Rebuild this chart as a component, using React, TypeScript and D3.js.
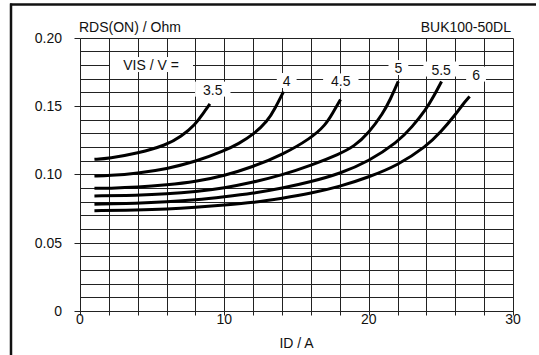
import React from "react";
import * as d3 from "d3";

// ID / A and RDS(ON) / Ohm
const vgsLabels = ["3.5", "4", "4.5", "5", "5.5", "6"];

const id35 = [1, 2, 4, 6, 7, 8, 8.5, 9];
const r35 = [0.111, 0.1117, 0.1154, 0.1215, 0.1275, 0.1365, 0.1442, 0.1515];

const id40 = [1, 2, 4, 6, 8, 10, 11, 12, 13, 13.5, 14.1];
const r40 = [0.0988, 0.099, 0.1008, 0.104, 0.1093, 0.1172, 0.1225, 0.129, 0.139, 0.148, 0.1605];

const id45 = [1, 2, 4, 6, 8, 10, 12, 14, 16, 17, 17.5, 18.05];
const r45 = [0.0898, 0.0898, 0.0905, 0.0922, 0.0946, 0.099, 0.1056, 0.1142, 0.1264, 0.136, 0.1447, 0.1548];

const id50 = [1, 4, 6, 8, 10, 12, 14, 16, 18, 19, 20, 21, 21.5, 22.05];
const r50 = [0.0842, 0.0847, 0.0856, 0.0873, 0.09, 0.0942, 0.0995, 0.1065, 0.115, 0.1205, 0.1302, 0.1447, 0.1548, 0.168];

const id55 = [1, 4, 6, 8, 10, 12, 14, 16, 18, 20, 22, 23, 24, 24.5, 25.05];
const r55 = [0.0781, 0.0788, 0.0798, 0.0812, 0.0835, 0.0861, 0.0898, 0.0946, 0.1005, 0.1095, 0.1235, 0.1345, 0.148, 0.157, 0.168];

const id60 = [1, 4, 6, 8, 10, 12, 14, 16, 18, 20, 22, 24, 25, 26, 26.5, 27];
const r60 = [0.0734, 0.0739, 0.0746, 0.0759, 0.0776, 0.0793, 0.0825, 0.0861, 0.091, 0.098, 0.1065, 0.1205, 0.131, 0.1435, 0.151, 0.157];

// where each VIS label sits (data units)
const labelId = [9.2, 14.32, 18.07, 22.06, 25.02, 27.44];
const labelR = [0.162, 0.1683, 0.168, 0.1778, 0.1767, 0.173];

const xTicks = [0, 10, 20, 30];
const yTicks = [0, 0.05, 0.1, 0.15, 0.2];

const W = 539;
const H = 355;

export default function App() {
  const x = d3.scaleLinear().domain([0, 30]).range([80, 513]);
  const y = d3.scaleLinear().domain([0, 0.2]).range([311, 37.7]);
  // snap thin lines to the pixel grid so they stay crisp
  const sx = (v: number) => Math.round(x(v)) + 0.5;
  const sy = (v: number) => Math.round(y(v)) + 0.5;

  const series = [
    [id35, r35],
    [id40, r40],
    [id45, r45],
    [id50, r50],
    [id55, r55],
    [id60, r60],
  ];

  const line = d3
    .line<[number, number]>()
    .x((d) => x(d[0]))
    .y((d) => y(d[1]))
    .curve(d3.curveBasis);

  const vGrid = d3.range(0, 31, 2);
  const hGrid = d3.range(0, 21).map((i) => i / 100);
  const font = "'Liberation Sans', Arial, Helvetica, sans-serif";
  const gridColor = "#222";

  return (
    <svg
      width={W}
      height={H}
      style={{ position: "absolute", left: 0, top: 0, display: "block", background: "#fff" }}
      fontFamily={font}
      fontSize={14}
    >
      {/* frame */}
      <line x1={10} y1={4.5} x2={536} y2={4.5} stroke="#111" strokeWidth={2.5} />
      <line x1={11} y1={3.5} x2={11} y2={H} stroke="#111" strokeWidth={2.5} />

      {/* grid */}
      {hGrid.map((v) => (
        <line key={"h" + v} x1={sx(0)} x2={sx(30)} y1={sy(v)} y2={sy(v)} stroke={gridColor} strokeWidth={1} />
      ))}
      {vGrid.map((v) => (
        <line key={"v" + v} x1={sx(v)} x2={sx(v)} y1={sy(0.2)} y2={sy(0) + 4} stroke={gridColor} strokeWidth={1} />
      ))}
      {yTicks.map((v) => (
        <line key={"yt" + v} x1={sx(0) - 6} x2={sx(0)} y1={sy(v)} y2={sy(v)} stroke={gridColor} strokeWidth={1} />
      ))}

      {/* tick labels */}
      {yTicks.map((v) => (
        <text key={"yl" + v} x={62} y={y(v)} dy="0.36em" textAnchor="end" fill="#111">
          {v === 0 ? "0" : v.toFixed(2)}
        </text>
      ))}
      {xTicks.map((v) => (
        <text key={"xl" + v} x={x(v)} y={324} textAnchor="middle" fill="#111">
          {v}
        </text>
      ))}
      <text x={(x(0) + x(30)) / 2} y={348} textAnchor="middle" fill="#111">
        ID / A
      </text>
      <text x={79} y={31.5} fill="#111">
        RDS(ON) / Ohm
      </text>
      <text x={511} y={31.5} textAnchor="end" fill="#111">
        BUK100-50DL
      </text>

      {/* VIS legend header */}
      <rect x={110} y={y(0.18) - 8} width={83} height={15} fill="#fff" />
      <text x={151} y={y(0.18)} dy="0.36em" textAnchor="middle" fill="#111">
        VIS / V =
      </text>

      {/* curve labels */}
      {vgsLabels.map((lab, i) => {
        const w = lab.length * 7.8 + 12;
        return (
          <g key={"lab" + lab}>
            <rect x={x(labelId[i]) - w / 2} y={y(labelR[i]) - 8} width={w} height={15} fill="#fff" />
            <text x={x(labelId[i])} y={y(labelR[i])} dy="0.36em" textAnchor="middle" fill="#111">
              {lab}
            </text>
          </g>
        );
      })}

      {/* curves */}
      {series.map(([ids, rs], i) => (
        <path
          key={"c" + i}
          d={line(ids.map((v, j) => [v, rs[j]] as [number, number])) || ""}
          fill="none"
          stroke="#000"
          strokeWidth={3}
          strokeLinecap="butt"
        />
      ))}
    </svg>
  );
}
